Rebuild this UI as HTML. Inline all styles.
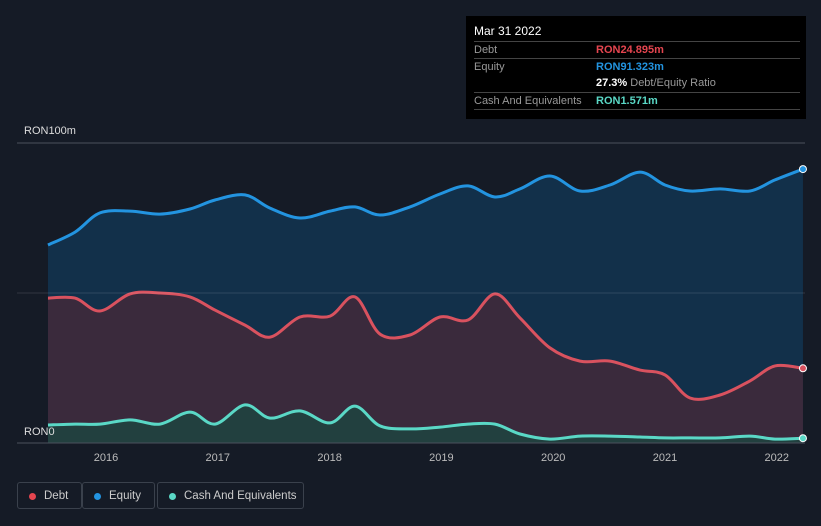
<!DOCTYPE html>
<html><head><meta charset="utf-8"><style>
body{margin:0;background:#151b26;width:821px;height:526px;overflow:hidden;font-family:"Liberation Sans",sans-serif;}
svg{position:absolute;left:0;top:0}
.tip{position:absolute;left:466px;top:16px;width:340px;height:103px;background:#000;color:#fff;font-size:11px;}
.row{position:absolute;left:8px;right:6px;height:17px;border-top:1px solid #444;line-height:17px;}
.lab{position:absolute;left:0;color:#999}
.val{position:absolute;left:122px;font-weight:bold}
.legend{position:absolute;top:482px;height:27px;border:1px solid #3a414c;border-radius:3px;color:#ccc;font-size:11.5px;line-height:27px;padding:0 0 0 26px;box-sizing:border-box;white-space:nowrap;overflow:hidden;}
.legend i{position:absolute;left:11px;top:10px;width:7px;height:7px;border-radius:50%}
</style></head><body>
<svg width="821" height="526" id="svg"></svg>
<div class="tip">
<div style="position:absolute;left:8px;top:8px;font-size:12px">Mar 31 2022</div>
<div class="row" style="top:25px"><span class="lab">Debt</span><span class="val" style="color:#e5454f">RON24.895m</span></div>
<div class="row" style="top:42px"><span class="lab">Equity</span><span class="val" style="color:#2394e0">RON91.323m</span></div>
<div class="row" style="top:59px;border-top:none"><span class="val" style="color:#fff">27.3% <span style="color:#999;font-weight:normal">Debt/Equity Ratio</span></span></div>
<div class="row" style="top:76px"><span class="lab">Cash And Equivalents</span><span class="val" style="color:#5ad8c6">RON1.571m</span></div>
<div class="row" style="top:93px;height:0"></div>
</div>
<div class="legend" style="left:17px;width:65px"><i style="background:#e5454f"></i>Debt</div>
<div class="legend" style="left:82px;width:73px"><i style="background:#2394e0"></i>Equity</div>
<div class="legend" style="left:157px;width:147px"><i style="background:#5ad8c6"></i>Cash And Equivalents</div>
<script>
const xs=[48,75,100,130,160,190,215,245,270,300,330,355,380,410,440,468,495,520,550,580,610,640,665,690,720,750,775,803];
const dates=xs.map(x=>+(2016+(x-106)/111.8).toFixed(3));
const equity=[66,70.3,76.7,77.3,76.3,78,81,82.7,78.3,75,77.3,78.7,76,78.7,83,85.7,82,84.7,89,84,86,90.3,86,84,84.7,84,87.7,91.3];
const debt=[48.3,48.3,44,49.7,50,48.7,44.3,39.3,35.3,42,42.3,48.7,36.3,36,42,41,49.7,41.7,31.7,27.3,27.3,24.3,22.7,15,16,20.7,25.7,24.9];
const cash=[6,6.3,6.3,7.7,6.3,10.3,6.3,12.7,8.3,10.7,6.7,12.3,5.7,4.7,5.3,6.3,6.3,3,1.3,2.3,2.3,2,1.7,1.7,1.7,2.3,1.3,1.6];
const years=[2016,2017,2018,2019,2020,2021,2022];
const X=d=>106+(d-2016)*111.8, Y=v=>443-v*3;
const svg=document.getElementById('svg'),NS='http://www.w3.org/2000/svg';
function el(t,a,p){const e=document.createElementNS(NS,t);for(const k in a)e.setAttribute(k,a[k]);(p||svg).appendChild(e);return e;}
function path(vals){const p=dates.map((d,i)=>[X(d),Y(vals[i])]);let s=`M${p[0][0]},${p[0][1]}`;
for(let i=0;i<p.length-1;i++){const a=p[i-1]||p[i],b=p[i],c=p[i+1],d=p[i+2]||c;
s+=` C${b[0]+(c[0]-a[0])/6},${b[1]+(c[1]-a[1])/6} ${c[0]-(d[0]-b[0])/6},${c[1]-(d[1]-b[1])/6} ${c[0]},${c[1]}`;}return [s,p];}
function series(vals,stroke,fill,name){const [s,p]=path(vals);
const a=el('path',{d:s+` L${p[p.length-1][0]},443 L${p[0][0]},443 Z`,fill:fill});


const l=el('path',{d:s,fill:'none',stroke:stroke,'stroke-width':3});


const q=p[p.length-1];const c=el('circle',{cx:q[0],cy:q[1],r:3.5,fill:stroke,stroke:'#fff','stroke-width':1});

}
series(equity,'#2394e0','#12304a','equity');
series(debt,'#d9525f','#3a2a3c','debt');
series(cash,'#5ad8c6','#22403f','cash');
[[143,'#4a515c'],[293,'rgba(255,255,255,0.12)'],[443,'#4a515c']].forEach(([y,c])=>{const g=el('line',{x1:17,x2:805,y1:y,y2:y,stroke:c});

});
const t1=el('text',{x:24,y:134,fill:'#ddd','font-size':11});t1.textContent='RON100m';


const t0=el('text',{x:24,y:435,fill:'#ddd','font-size':11});t0.textContent='RON0';


years.forEach(yr=>{const t=el('text',{x:X(yr),y:461,fill:'#bbb','font-size':11,'text-anchor':'middle'});t.textContent=yr;

});
</script>
</body></html>
